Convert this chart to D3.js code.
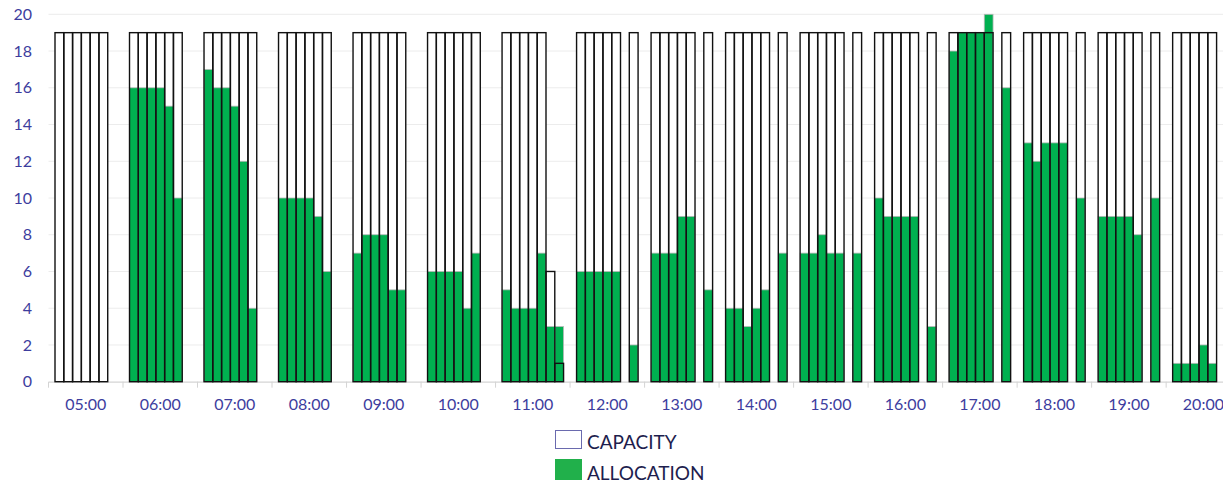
<!DOCTYPE html>
<html>
<head>
<meta charset="utf-8">
<script src="https://cdn.jsdelivr.net/npm/d3@7"></script>
<style>
  html, body { margin: 0; padding: 0; background: #ffffff; }
  svg { display: block; font-family: Lato, "Open Sans", sans-serif; }
</style>
</head>
<body>
<svg id="chart" width="1223" height="485"></svg>
<script>
// Hour groups along the x axis
const hours = ["05:00","06:00","07:00","08:00","09:00","10:00","11:00","12:00",
               "13:00","14:00","15:00","16:00","17:00","18:00","19:00","20:00"];

// Seven slots per hour; null means no bar in that slot
const slots = [0, 1, 2, 3, 4, 5, 6];

const capacity = [
  [19,19,19,19,19,19,null],
  [19,19,19,19,19,19,null],
  [19,19,19,19,19,19,null],
  [19,19,19,19,19,19,null],
  [19,19,19,19,19,19,null],
  [19,19,19,19,19,19,null],
  [19,19,19,19,19,6,1],
  [19,19,19,19,19,null,19],
  [19,19,19,19,19,null,19],
  [19,19,19,19,19,null,19],
  [19,19,19,19,19,null,19],
  [19,19,19,19,19,null,19],
  [19,19,19,19,19,null,19],
  [19,19,19,19,19,null,19],
  [19,19,19,19,19,null,19],
  [19,19,19,19,19,null,null]
];

const allocation = [
  [0,0,0,0,0,0,null],
  [16,16,16,16,15,10,null],
  [17,16,16,15,12,4,null],
  [10,10,10,10,9,6,null],
  [7,8,8,8,5,5,null],
  [6,6,6,6,4,7,null],
  [5,4,4,4,7,3,3],
  [6,6,6,6,6,null,2],
  [7,7,7,9,9,null,5],
  [4,4,3,4,5,null,7],
  [7,7,8,7,7,null,7],
  [10,9,9,9,9,null,3],
  [18,19,19,19,20,null,16],
  [13,12,13,13,13,null,10],
  [9,9,9,9,8,null,10],
  [1,1,1,2,1,null,null]
];

const yTicks = [0,2,4,6,8,10,12,14,16,18,20];

const legendItems = ["CAPACITY", "ALLOCATION"];

const svg = d3.select("#chart");

const left = 48.5, step = 74.51;
const x = d3.scaleBand()
  .domain(hours)
  .range([left, left + step * hours.length])
  .padding(0);

const pad = 6.5;
const xs = d3.scaleBand()
  .domain(slots)
  .range([pad, x.bandwidth() - pad])
  .padding(0);

const y = d3.scaleLinear().domain([0, 20]).range([381.7, 14.3]);

// Horizontal gridlines
svg.append("g")
  .selectAll("line")
  .data(yTicks.filter(d => d > 0))
  .join("line")
  .attr("x1", left).attr("x2", 1223)
  .attr("y1", d => y(d)).attr("y2", d => y(d))
  .attr("stroke", "#ececec").attr("stroke-width", 1);

// Y axis labels
const yAxis = svg.append("g")
  .attr("transform", "translate(32,0)")
  .call(d3.axisLeft(y).tickValues(yTicks).tickSize(0).tickPadding(0));
yAxis.select(".domain").remove();
yAxis.selectAll("text")
  .attr("font-family", "Lato, 'Open Sans', sans-serif")
  .attr("font-size", 16)
  .attr("fill", "#3d3d9e");

// X axis: baseline, ticks between hour groups, hour labels
const xAxis = svg.append("g")
  .attr("transform", `translate(0,${y(0)})`)
  .call(d3.axisBottom(x).tickSize(0).tickPadding(17));
xAxis.select(".domain").attr("stroke", "#d4d4d4").attr("stroke-width", 1.2);
xAxis.selectAll("text")
  .attr("font-family", "Lato, 'Open Sans', sans-serif")
  .attr("font-size", 16)
  .attr("fill", "#3d3d9e");
xAxis.append("g")
  .selectAll("line")
  .data(hours)
  .join("line")
  .attr("x1", d => x(d)).attr("x2", d => x(d))
  .attr("y1", 0).attr("y2", 6)
  .attr("stroke", "#d4d4d4").attr("stroke-width", 1);

// Flatten series into bar records
function flatten(series) {
  const out = [];
  hours.forEach((h, i) => {
    slots.forEach(s => {
      const v = series[i][s];
      if (v !== null) out.push({ hour: h, slot: s, value: v });
    });
  });
  return out;
}
const capBars = flatten(capacity);
const allocBars = flatten(allocation);

const bx = d => x(d.hour) + xs(d.slot);
const bw = xs.bandwidth();

// Capacity background fill
svg.append("g")
  .selectAll("rect")
  .data(capBars)
  .join("rect")
  .attr("x", bx).attr("width", bw)
  .attr("y", d => y(d.value))
  .attr("height", d => y(0) - y(d.value))
  .attr("fill", "#ffffff");

// Allocation bars
svg.append("g")
  .selectAll("rect")
  .data(allocBars.filter(d => d.value > 0))
  .join("rect")
  .attr("x", bx).attr("width", bw)
  .attr("y", d => y(d.value))
  .attr("height", d => y(0) - y(d.value))
  .attr("fill", "#00b050")
  .attr("stroke", "#b8b8b8")
  .attr("stroke-width", 0.8);

// Capacity outlines on top
svg.append("g")
  .selectAll("rect")
  .data(capBars)
  .join("rect")
  .attr("x", bx).attr("width", bw)
  .attr("y", d => y(d.value))
  .attr("height", d => y(0) - y(d.value))
  .attr("fill", "none")
  .attr("stroke", "#111111")
  .attr("stroke-width", 1.4);

// Legend
const legend = svg.append("g").attr("transform", "translate(555,430)");
legend.append("rect")
  .attr("x", 0.5).attr("y", 0.5).attr("width", 26).attr("height", 18)
  .attr("fill", "#ffffff").attr("stroke", "#6a6aae").attr("stroke-width", 1);
legend.append("rect")
  .attr("x", 0).attr("y", 29).attr("width", 27).attr("height", 21)
  .attr("fill", "#21b04b");
legend.selectAll("text")
  .data(legendItems)
  .join("text")
  .attr("x", 32)
  .attr("y", (d, i) => 19 + i * 31)
  .attr("font-family", "Lato, 'Open Sans', sans-serif")
  .attr("font-size", 19)
  .attr("fill", "#1e1e4e")
  .text(d => d);
</script>
</body>
</html>
